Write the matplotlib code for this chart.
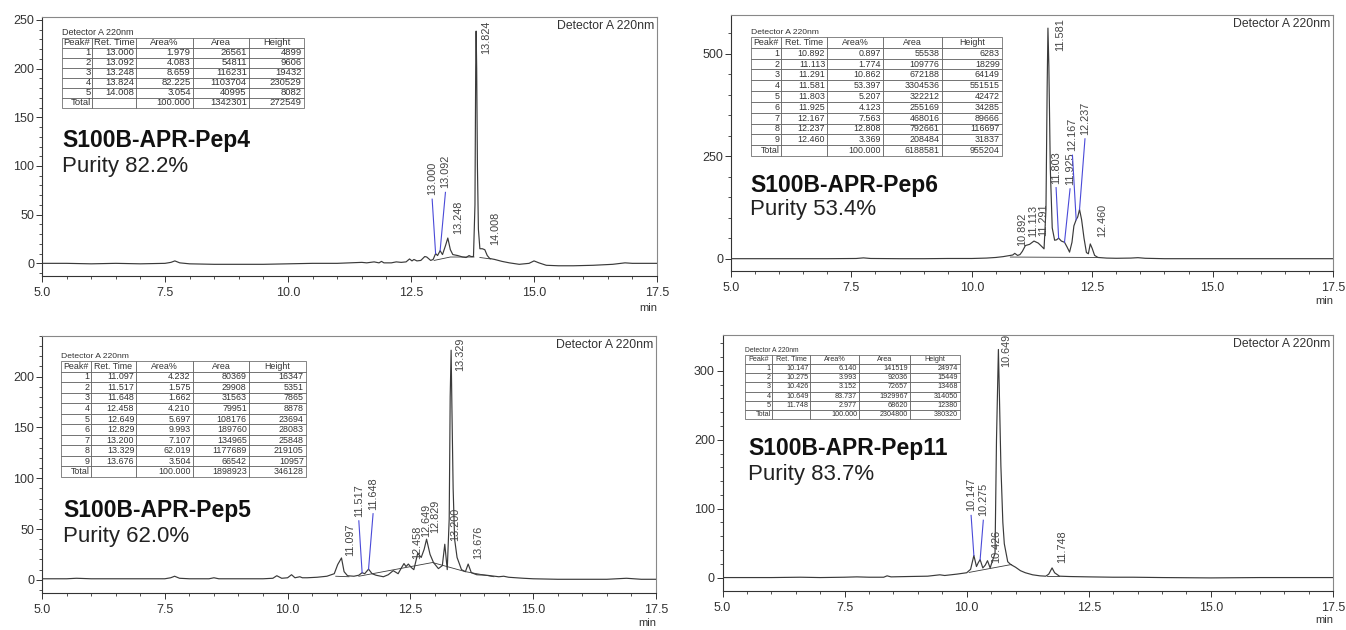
import numpy as np
import matplotlib
matplotlib.use("Agg")
import matplotlib.pyplot as plt
from matplotlib.ticker import MultipleLocator, FormatStrFormatter

plt.rcParams['font.family'] = ['Liberation Sans', 'DejaVu Sans']

W, H = 1346, 630

# ------------------------------------------------------------------ data
# --- Pep4
pep4_name = "S100B-APR-Pep4"
pep4_purity = "Purity 82.2%"
pep4_rt = [13.000, 13.092, 13.248, 13.824, 14.008]
pep4_area_pct = [1.979, 4.083, 8.659, 82.225, 3.054]
pep4_area = [26561, 54811, 116231, 1103704, 40995]
pep4_height = [4899, 9606, 19432, 230529, 8082]
pep4_total = [100.000, 1342301, 272549]
pep4_t = [5.0, 5.5, 6.0, 6.5, 7.0, 7.5, 7.62, 7.7, 7.8, 8.0, 8.5, 9.0, 9.5, 10.0, 10.5,
          11.0, 11.5, 11.6, 11.75, 11.85, 11.9, 11.95, 12.1, 12.2, 12.3, 12.4, 12.47,
          12.52, 12.56, 12.62, 12.7, 12.78, 12.82, 12.9, 12.95, 13.0, 13.04, 13.092,
          13.14, 13.2, 13.248, 13.3, 13.35, 13.45, 13.55, 13.62, 13.68, 13.72, 13.77,
          13.80, 13.815, 13.824, 13.835, 13.85, 13.87, 13.9, 13.95, 14.0, 14.05, 14.1,
          14.2, 14.35, 14.5, 14.7, 14.9, 15.0, 15.1, 15.25, 15.5, 15.8, 16.2, 16.6,
          16.85, 17.0, 17.5]
pep4_v = [0, 0, -0.5, 0, -0.5, 0, 1, 2.5, 0.5, -0.5, -1, -1, -1, -0.5, 0,
          0, 1, 0.5, 1.5, 0.5, 2, 0.5, 0.5, 1.5, 1, 1.5, 4.5,
          2.5, 4, 2.5, 3, 7, 6.5, 3, 4, 10, 8, 13,
          9, 18, 26, 14, 9, 8, 6.5, 6, 8, 7, 7,
          60, 200, 238.5, 200, 100, 35, 15, 15, 14, 8, 5,
          4, 2, 0.5, -1, 0, 2.5, 0.5, -2, -2.5, -2.5, -2, -1,
          0.5, 0, 0]
pep4_base_t = [[12.97, 13.3, 13.78], [13.9, 14.12]]
pep4_base_v = [[3, 6.5, 6.5], [6, 4.5]]

# --- Pep6
pep6_name = "S100B-APR-Pep6"
pep6_purity = "Purity 53.4%"
pep6_rt = [10.892, 11.113, 11.291, 11.581, 11.803, 11.925, 12.167, 12.237, 12.460]
pep6_area_pct = [0.897, 1.774, 10.862, 53.397, 5.207, 4.123, 7.563, 12.808, 3.369]
pep6_area = [55538, 109776, 672188, 3304536, 322212, 255169, 468016, 792661, 208484]
pep6_height = [6283, 18299, 64149, 551515, 42472, 34285, 89666, 116697, 31837]
pep6_total = [100.000, 6188581, 955204]
pep6_t = [5.0, 6.0, 7.0, 7.6, 7.75, 7.9, 8.5, 9.0, 9.5, 10.0, 10.3, 10.5, 10.65, 10.75,
          10.85, 10.892, 10.95, 11.0, 11.05, 11.113, 11.2, 11.291, 11.38, 11.45, 11.5,
          11.54, 11.565, 11.581, 11.6, 11.63, 11.67, 11.72, 11.76, 11.803, 11.86,
          11.925, 11.98, 12.03, 12.08, 12.12, 12.167, 12.2, 12.237, 12.28, 12.33,
          12.38, 12.42, 12.46, 12.5, 12.55, 12.62, 12.8, 13.0, 13.3, 13.45, 13.6,
          14.0, 15.0, 16.0, 17.0, 17.5]
pep6_v = [0, 0, 0, 0.5, 2, 0.5, 0, 0, 0.5, 0.5, 1.5, 3, 5, 7,
          9, 13, 8, 10, 18, 32, 35, 43, 38, 30, 24,
          120, 420, 562, 470, 220, 75, 45, 46, 50, 43,
          40, 28, 16, 40, 80, 95, 102, 120, 95, 50,
          15, 12, 36, 25, 8, 3, 1.5, 1, 1.5, 2.5, 1,
          0, 0, 0, 0, 0]
pep6_base_t = [[10.8, 12.62]]
pep6_base_v = [[4, 3]]

# --- Pep5
pep5_name = "S100B-APR-Pep5"
pep5_purity = "Purity 62.0%"
pep5_rt = [11.097, 11.517, 11.648, 12.458, 12.649, 12.829, 13.200, 13.329, 13.676]
pep5_area_pct = [4.232, 1.575, 1.662, 4.210, 5.697, 9.993, 7.107, 62.019, 3.504]
pep5_area = [80369, 29908, 31563, 79951, 108176, 189760, 134965, 1177689, 66542]
pep5_height = [16347, 5351, 7865, 8878, 23694, 28083, 25848, 219105, 10957]
pep5_total = [100.000, 1898923, 346128]
pep5_t = [5.0, 5.5, 5.7, 6.0, 6.5, 7.0, 7.5, 7.62, 7.7, 7.8, 8.0, 8.4, 8.5, 8.6, 9.0,
          9.5, 9.7, 9.78, 9.88, 10.0, 10.08, 10.15, 10.25, 10.3, 10.4, 10.6, 10.8,
          10.95, 11.02, 11.097, 11.15, 11.22, 11.35, 11.45, 11.517, 11.57, 11.648,
          11.72, 11.8, 11.95, 12.05, 12.15, 12.25, 12.32, 12.37, 12.41, 12.458, 12.52,
          12.57, 12.649, 12.72, 12.78, 12.829, 12.9, 12.97, 13.07, 13.15, 13.2, 13.25,
          13.29, 13.31, 13.329, 13.345, 13.37, 13.4, 13.45, 13.54, 13.62, 13.676,
          13.74, 13.85, 14.05, 14.3, 14.4, 14.5, 14.8, 15.0, 15.5, 16.0, 16.5, 16.9,
          17.2, 17.5]
pep5_v = [1, 1, 1.5, 1, 1, 1, 1, 2, 3.5, 1.5, 1, 1, 2, 1, 1,
          1, 1.5, 4, 1.5, 2, 5, 2, 3, 2, 2, 2.5, 3.5,
          6, 15, 21.5, 8, 4, 3.5, 4.5, 7, 6, 10.5,
          6, 4.5, 3, 5, 9, 6, 12, 16, 13, 15.5, 12,
          10, 26, 22, 30, 40, 25, 17, 11, 14, 35, 10,
          60, 180, 226, 170, 90, 40, 22, 10, 8, 15.5,
          7, 5, 4.5, 3, 3.5, 2.5, 1.5, 1, 0.5, 0.5, 0.5, 1.5,
          0.5, 0.5]
pep5_base_t = [[10.98, 11.25], [11.45, 12.95, 13.62, 14.2]]
pep5_base_v = [[3.5, 3], [3.5, 17, 8, 3]]

# --- Pep11
pep11_name = "S100B-APR-Pep11"
pep11_purity = "Purity 83.7%"
pep11_rt = [10.147, 10.275, 10.426, 10.649, 11.748]
pep11_area_pct = [6.140, 3.993, 3.152, 83.737, 2.977]
pep11_area = [141519, 92036, 72657, 1929967, 68620]
pep11_height = [24974, 15449, 13468, 314050, 12380]
pep11_total = [100.000, 2304800, 380320]
pep11_t = [5.0, 6.0, 6.6, 7.0, 7.5, 7.75, 8.0, 8.3, 8.37, 8.45, 8.8, 9.2, 9.45, 9.55,
           9.8, 10.0, 10.08, 10.147, 10.2, 10.24, 10.275, 10.33, 10.38, 10.426, 10.48,
           10.53, 10.58, 10.61, 10.649, 10.665, 10.7, 10.74, 10.77, 10.84, 10.9, 11.0,
           11.1, 11.2, 11.35, 11.5, 11.62, 11.68, 11.748, 11.8, 11.9, 12.1, 12.5, 13.0,
           13.4, 14.0, 15.0, 16.0, 17.0, 17.5]
pep11_v = [0, 0, 0.5, 0, 0.5, 1, 0.5, 0.5, 2.5, 1, 1.5, 2, 4, 3,
           5, 7, 12, 32, 16, 22, 26, 14, 18, 24.5, 14,
           25, 35, 200, 331, 280, 162, 80, 49, 23, 19, 15,
           10, 7, 4, 2.5, 2, 5, 14, 7, 2, 1.5, 1, 0.5,
           0.5, 0, -0.5, 0, 0, 0]
pep11_base_t = [[10.05, 10.92], [11.65, 11.88]]
pep11_base_v = [[7.5, 19], [2, 2]]

header = ["Peak#", "Ret. Time", "Area%", "Area", "Height"]
x_tick_step, x_minor_step = 2.5, 0.5

# ------------------------------------------------------------------ layout
TRACE = "#3a3a3a"
LEAD = "#4a4ad8"
TXT = "#333333"

fig = plt.figure(figsize=(W / 100, H / 100), dpi=100)
fig.patch.set_facecolor("white")


def draw(box, ylim, ymaj, ymin, name, purity, rt, apct, area, height, total,
         tr_t, tr_v, base_t, base_v, labels, table_px, colw, tfs, title_px,
         purity_px, min_off):
    l, t, r, b = box
    ax = fig.add_axes([l / W, 1 - b / H, (r - l) / W, (b - t) / H])
    ax.set_xlim(5, 17.5)
    ax.set_ylim(*ylim)

    def frac(x, y):
        return (x - l) / (r - l), (b - y) / (b - t)

    ax.plot(tr_t, tr_v, color=TRACE, lw=0.85, zorder=3)
    for bt, bv in zip(base_t, base_v):
        ax.plot(bt, bv, color=TRACE, lw=0.6, zorder=2)

    ppu = (b - t) / (ylim[1] - ylim[0])
    gap = 4 / ppu
    for rr, (lt, lv, lead) in zip(rt, labels):
        ax.text(lt, lv, f"{rr:.3f}", rotation=90, ha="center", va="bottom",
                fontsize=7.8, color="#444444", zorder=4)
        if lead:
            ax.plot([lt, rr], [lv - gap, np.interp(rr, tr_t, tr_v)],
                    color=LEAD, lw=0.8, zorder=4)

    # spines / ticks
    for s in ["left", "bottom"]:
        ax.spines[s].set_color("#333333")
        ax.spines[s].set_linewidth(0.8)
    for s in ["top", "right"]:
        ax.spines[s].set_color("#888888")
        ax.spines[s].set_linewidth(0.8)
    ax.xaxis.set_major_locator(MultipleLocator(x_tick_step))
    ax.xaxis.set_minor_locator(MultipleLocator(x_minor_step))
    ax.xaxis.set_major_formatter(FormatStrFormatter("%.1f"))
    ax.yaxis.set_major_locator(MultipleLocator(ymaj))
    ax.yaxis.set_minor_locator(MultipleLocator(ymin))
    ax.yaxis.set_major_formatter(FormatStrFormatter("%d"))
    ax.tick_params(which="major", length=4, width=0.7, color="#333333",
                   labelsize=9, labelcolor=TXT)
    ax.tick_params(which="minor", length=2.5, width=0.6, color="#333333")
    ax.tick_params(axis="x", pad=4)
    ax.tick_params(axis="y", pad=1.5)

    # texts
    ax.text(1 - 3 / (r - l), 1 - 3 / (b - t), "Detector A 220nm", ha="right",
            va="top", transform=ax.transAxes, fontsize=8.8, color=TXT)
    ax.text(1.0, -min_off / (b - t), "min", ha="right", va="top",
            transform=ax.transAxes, fontsize=8, color=TXT, clip_on=False)
    ax.text(*frac(*title_px), name, transform=ax.transAxes, fontsize=16.5,
            fontweight="bold", va="baseline", ha="left", color="#111111")
    ax.text(*frac(*purity_px), purity, transform=ax.transAxes, fontsize=16,
            va="baseline", ha="left", color="#222222")

    # table
    rows = [header]
    for i, (a1, a2, a3, a4) in enumerate(zip(rt, apct, area, height)):
        rows.append([str(i + 1), f"{a1:.3f}", f"{a2:.3f}", str(a3), str(a4)])
    rows.append(["Total", "", f"{total[0]:.3f}", str(total[1]), str(total[2])])
    x0, y0, x1, y1 = table_px
    bx0, by1 = frac(x0, y0)
    bx1, by0 = frac(x1, y1)
    tb = ax.table(cellText=rows, cellLoc="right",
                  colWidths=[w / sum(colw) for w in colw],
                  bbox=[bx0, by0, bx1 - bx0, by1 - by0], zorder=5)
    tb.auto_set_font_size(False)
    tb.set_fontsize(tfs)
    for (ri, ci), cell in tb.get_celld().items():
        cell.set_edgecolor("#555555")
        cell.set_linewidth(0.5)
        cell.PAD = 0.04
        cell.get_text().set_color(TXT)
        if ri == 0:
            cell.get_text().set_ha("center")
    ax.text(*frac(x0, y0 - 0.5), "Detector A 220nm", transform=ax.transAxes,
            fontsize=tfs - 0.3, va="bottom", ha="left", color=TXT)
    return ax


draw((42, 17, 657, 276), (-13, 253), 50, 10, pep4_name, pep4_purity,
     pep4_rt, pep4_area_pct, pep4_area, pep4_height, pep4_total,
     pep4_t, pep4_v, pep4_base_t, pep4_base_v,
     [(12.93, 70, True), (13.20, 77, True), (13.45, 30.5, False),
      (14.03, 215, False), (14.21, 18.5, False)],
     (62, 37.7, 304, 108), [30, 44, 57, 56, 55], 6.8, (62, 147), (62, 172), 27)

draw((731, 15, 1333, 271), (-30, 594), 250, 50, pep6_name, pep6_purity,
     pep6_rt, pep6_area_pct, pep6_area, pep6_height, pep6_total,
     pep6_t, pep6_v, pep6_base_t, pep6_base_v,
     [(11.05, 32, False), (11.27, 52, False), (11.49, 56, False),
      (11.83, 507, False), (11.75, 183, True), (12.04, 180, True),
      (12.09, 262, True), (12.35, 302, True), (12.70, 52, False)],
     (751, 37, 1002, 156), [30, 46, 56, 59, 60], 6.4, (750, 192), (750, 215), 25)

draw((42, 336, 656, 593), (-13, 240), 50, 10, pep5_name, pep5_purity,
     pep5_rt, pep5_area_pct, pep5_area, pep5_height, pep5_total,
     pep5_t, pep5_v, pep5_base_t, pep5_base_v,
     [(11.27, 23, False), (11.45, 62, True), (11.74, 69, True),
      (12.64, 20, False), (12.83, 42, False), (13.01, 46, False),
      (13.42, 38, False), (13.51, 206, False), (13.88, 20, False)],
     (61, 361, 306, 477), [30, 45, 57, 56, 57], 6.4, (63, 517), (63, 542), 25)

draw((722.5, 335, 1333, 591), (-19.5, 352), 100, 20, pep11_name, pep11_purity,
     pep11_rt, pep11_area_pct, pep11_area, pep11_height, pep11_total,
     pep11_t, pep11_v, pep11_base_t, pep11_base_v,
     [(10.09, 96, True), (10.34, 89, True), (10.60, 21, False),
      (10.80, 305, False), (11.96, 21, False)],
     (745, 355, 960, 419), [27, 38, 49, 51, 50], 5.2, (748, 455), (748, 480), 24)

fig.savefig("out.png", dpi=100, facecolor="white")
